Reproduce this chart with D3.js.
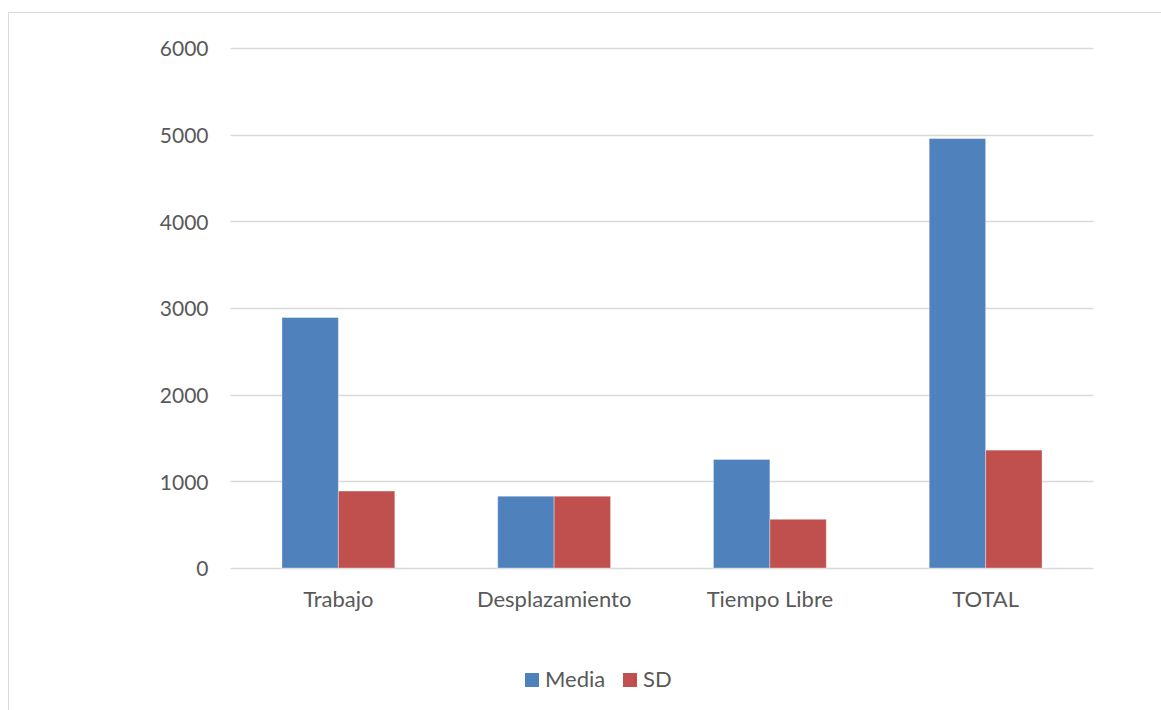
<!DOCTYPE html>
<html>
<head>
<meta charset="utf-8">
<script src="https://cdn.jsdelivr.net/npm/d3@7"></script>
<style>
  body { margin: 0; background: #fff; }
  text { font-family: Lato, "Open Sans", sans-serif; fill: #595959; }
</style>
</head>
<body>
<div id="chart"></div>
<script>
// Data
var categories = ["Trabajo", "Desplazamiento", "Tiempo Libre", "TOTAL"];
var seriesNames = ["Media", "SD"];
var media = [2890, 828, 1252, 4955];
var sd = [888, 828, 562, 1360];
var yTicks = [0, 1000, 2000, 3000, 4000, 5000, 6000];

var colors = {Media: "#4F81BD", SD: "#C0504D"};

var width = 1161, height = 710;
var plot = {left: 230.5, right: 1093.5, top: 48, bottom: 568};

var svg = d3.select("#chart").append("svg")
    .attr("width", width)
    .attr("height", height);

// Chart border
svg.append("path")
    .attr("d", "M8.5," + height + "V12.5H" + width)
    .attr("fill", "none")
    .attr("stroke", "#D9D9D9");

var x = d3.scaleBand()
    .domain(categories)
    .range([plot.left, plot.right])
    .paddingInner(0.477)
    .paddingOuter(0.2385);

var x1 = d3.scaleBand()
    .domain(seriesNames)
    .range([0, x.bandwidth()]);

var y = d3.scaleLinear()
    .domain([0, 6000])
    .range([plot.bottom, plot.top]);

// Gridlines
svg.append("g")
    .selectAll("line")
    .data(yTicks)
    .enter().append("line")
    .attr("x1", plot.left)
    .attr("x2", plot.right)
    .attr("y1", d => Math.round(y(d)) + 0.5)
    .attr("y2", d => Math.round(y(d)) + 0.5)
    .attr("stroke", "#D9D9D9")
    .attr("stroke-width", 1.3);

// Y axis labels
var yAxis = svg.append("g")
    .attr("transform", "translate(" + (plot.left - 22) + ",1)")
    .call(d3.axisLeft(y).tickValues(yTicks).tickSize(0).tickPadding(0).tickFormat(d3.format("d")));
yAxis.select(".domain").remove();
yAxis.selectAll("text")
    .attr("font-size", 21)
    .attr("font-family", "Lato, 'Open Sans', sans-serif")
    .attr("fill", "#595959");

// Bars
var rows = categories.map((c, i) => ({cat: c, values: [{key: "Media", v: media[i]}, {key: "SD", v: sd[i]}]}));

var groups = svg.append("g").selectAll("g")
    .data(rows)
    .enter().append("g")
    .attr("transform", d => "translate(" + x(d.cat) + ",0)");

groups.selectAll("rect")
    .data(d => d.values)
    .enter().append("rect")
    .attr("x", d => x1(d.key))
    .attr("y", d => y(d.v))
    .attr("width", x1.bandwidth())
    .attr("height", d => y(0) - y(d.v))
    .attr("fill", d => colors[d.key])
    .attr("stroke", "rgba(255,255,255,0.35)")
    .attr("stroke-width", 1);

// X axis labels
var xAxis = svg.append("g")
    .attr("transform", "translate(0," + plot.bottom + ")")
    .call(d3.axisBottom(x).tickSize(0).tickPadding(0));
xAxis.select(".domain").remove();
xAxis.selectAll("text")
    .attr("dy", null)
    .attr("y", 39)
    .attr("font-size", 22)
    .attr("font-family", "Lato, 'Open Sans', sans-serif")
    .attr("fill", "#595959");

// Legend
var legendX = [525, 623];
var legend = svg.append("g").selectAll("g")
    .data(seriesNames)
    .enter().append("g")
    .attr("transform", (d, i) => "translate(" + legendX[i] + ",673)");

legend.append("rect")
    .attr("width", 14)
    .attr("height", 14)
    .attr("fill", d => colors[d]);

legend.append("text")
    .attr("x", 20)
    .attr("y", 14)
    .attr("font-size", 22)
    .text(d => d);
</script>
</body>
</html>
